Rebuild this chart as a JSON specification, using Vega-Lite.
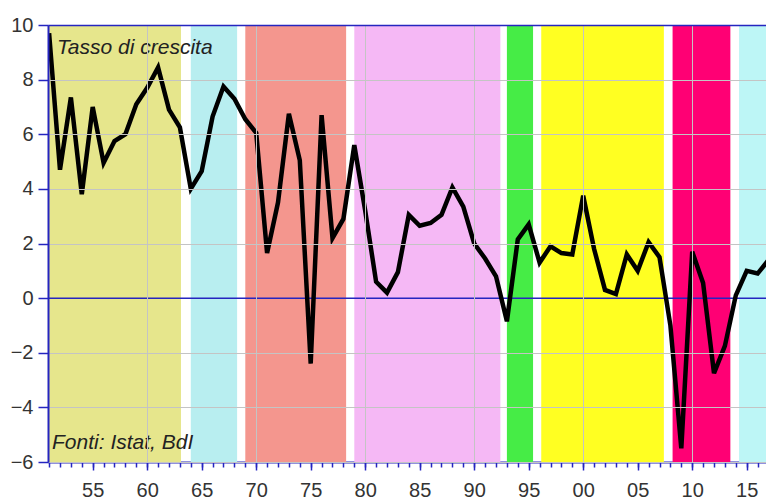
{
  "$schema": "https://vega.github.io/schema/vega-lite/v6.json",
  "width": 718,
  "height": 437,
  "autosize": {"type": "none"},
  "padding": {"left": 48, "top": 25, "right": 0, "bottom": 39},
  "background": "white",
  "config": {
    "view": {"stroke": null},
    "axis": {"labelFont": "Liberation Sans", "labelFontSize": 20, "labelColor": "#333333"}
  },
  "datasets": {
    "bands": [
      {"period": "p1", "start": 1950, "end": 1963.1},
      {"period": "p2", "start": 1964.0, "end": 1968.25},
      {"period": "p3", "start": 1969.0, "end": 1978.25},
      {"period": "p4", "start": 1979.0, "end": 1992.4},
      {"period": "p5", "start": 1993.0, "end": 1995.4},
      {"period": "p6", "start": 1996.15, "end": 2007.4},
      {"period": "p7", "start": 2008.2, "end": 2013.5},
      {"period": "p8", "start": 2014.3, "end": 2020}
    ],
    "gdp": [
      {"year": 1951, "growth": 9.7},
      {"year": 1952, "growth": 4.7},
      {"year": 1953, "growth": 7.35},
      {"year": 1954, "growth": 3.8},
      {"year": 1955, "growth": 7.0},
      {"year": 1956, "growth": 4.95},
      {"year": 1957, "growth": 5.75},
      {"year": 1958, "growth": 6.0},
      {"year": 1959, "growth": 7.1},
      {"year": 1960, "growth": 7.7},
      {"year": 1961, "growth": 8.45},
      {"year": 1962, "growth": 6.9},
      {"year": 1963, "growth": 6.25},
      {"year": 1964, "growth": 4.0},
      {"year": 1965, "growth": 4.65},
      {"year": 1966, "growth": 6.65},
      {"year": 1967, "growth": 7.75},
      {"year": 1968, "growth": 7.3},
      {"year": 1969, "growth": 6.55},
      {"year": 1970, "growth": 6.05},
      {"year": 1971, "growth": 1.65},
      {"year": 1972, "growth": 3.5},
      {"year": 1973, "growth": 6.75},
      {"year": 1974, "growth": 5.05},
      {"year": 1975, "growth": -2.4},
      {"year": 1976, "growth": 6.7},
      {"year": 1977, "growth": 2.2},
      {"year": 1978, "growth": 2.9},
      {"year": 1979, "growth": 5.6},
      {"year": 1980, "growth": 3.2},
      {"year": 1981, "growth": 0.6},
      {"year": 1982, "growth": 0.2},
      {"year": 1983, "growth": 0.95},
      {"year": 1984, "growth": 3.05},
      {"year": 1985, "growth": 2.65},
      {"year": 1986, "growth": 2.75},
      {"year": 1987, "growth": 3.05},
      {"year": 1988, "growth": 4.05},
      {"year": 1989, "growth": 3.35},
      {"year": 1990, "growth": 2.0},
      {"year": 1991, "growth": 1.45},
      {"year": 1992, "growth": 0.8},
      {"year": 1993, "growth": -0.85},
      {"year": 1994, "growth": 2.15},
      {"year": 1995, "growth": 2.7},
      {"year": 1996, "growth": 1.3},
      {"year": 1997, "growth": 1.9},
      {"year": 1998, "growth": 1.65},
      {"year": 1999, "growth": 1.6},
      {"year": 2000, "growth": 3.75},
      {"year": 2001, "growth": 1.8},
      {"year": 2002, "growth": 0.3},
      {"year": 2003, "growth": 0.15},
      {"year": 2004, "growth": 1.6},
      {"year": 2005, "growth": 1.0},
      {"year": 2006, "growth": 2.05},
      {"year": 2007, "growth": 1.5},
      {"year": 2008, "growth": -1.0},
      {"year": 2009, "growth": -5.5},
      {"year": 2010, "growth": 1.7},
      {"year": 2011, "growth": 0.55},
      {"year": 2012, "growth": -2.75},
      {"year": 2013, "growth": -1.75},
      {"year": 2014, "growth": 0.1},
      {"year": 2015, "growth": 1.0},
      {"year": 2016, "growth": 0.9},
      {"year": 2017, "growth": 1.4}
    ]
  },
  "layer": [
    {
      "data": {"name": "bands"},
      "mark": {"type": "rect", "clip": true},
      "encoding": {
        "x": {
          "field": "start", "type": "quantitative",
          "scale": {"domain": [1950.9, 2016.77], "nice": false, "zero": false},
          "axis": {
            "orient": "bottom",
            "values": [1951,1952,1953,1954,1955,1956,1957,1958,1959,1960,1961,1962,1963,1964,1965,1966,1967,1968,1969,1970,1971,1972,1973,1974,1975,1976,1977,1978,1979,1980,1981,1982,1983,1984,1985,1986,1987,1988,1989,1990,1991,1992,1993,1994,1995,1996,1997,1998,1999,2000,2001,2002,2003,2004,2005,2006,2007,2008,2009,2010,2011,2012,2013,2014,2015,2016],
            "labels": false, "domain": false, "grid": false,
            "ticks": true, "tickSize": 5, "tickColor": "#2525c0", "tickWidth": 1.5,
            "title": null
          }
        },
        "x2": {"field": "end"},
        "color": {
          "field": "period", "type": "nominal",
          "scale": {
            "domain": ["p1", "p2", "p3", "p4", "p5", "p6", "p7", "p8"],
            "range": ["#E6E68C", "#B8EEF0", "#F4968E", "#F5B8F5", "#46EC46", "#FFFF22", "#FF0074", "#BDF6F6"]
          },
          "legend": null
        }
      }
    },
    {
      "data": {"values": [{}]},
      "mark": {"type": "rule", "color": "#2525c0", "strokeWidth": 1.5},
      "encoding": {"y": {"datum": 0, "type": "quantitative"}}
    },
    {
      "data": {"name": "gdp"},
      "mark": {"type": "line", "color": "black", "strokeWidth": 4.5, "clip": true},
      "encoding": {
        "x": {
          "field": "year", "type": "quantitative",
          "scale": {"domain": [1950.9, 2016.77], "nice": false, "zero": false},
          "axis": {
            "orient": "bottom",
            "values": [1955, 1960, 1965, 1970, 1975, 1980, 1985, 1990, 1995, 2000, 2005, 2010, 2015],
            "labelExpr": "slice(toString(datum.value), 2)",
            "grid": false, "domain": true, "domainColor": "#2525c0", "domainWidth": 2,
            "tickColor": "#2525c0", "tickSize": 8, "tickWidth": 1.5,
            "labelPadding": 10, "title": null
          }
        },
        "y": {
          "field": "growth", "type": "quantitative",
          "scale": {"domain": [-6, 10], "nice": false, "zero": false},
          "axis": {
            "values": [-6, -4, -2, 0, 2, 4, 6, 8, 10],
            "format": "d",
            "grid": true, "gridColor": "#c4c4c4", "gridWidth": 1,
            "gridOpacity": {"condition": {"test": "datum.value === 0", "value": 0}, "value": 1},
            "domain": true, "domainColor": "#2525c0", "domainWidth": 2,
            "tickColor": "#2525c0", "tickSize": 10, "tickWidth": 1.5,
            "labelPadding": 5, "title": null, "zindex": 1
          }
        }
      }
    },
    {
      "data": {"values": [{"label": "Tasso di crescita"}]},
      "mark": {"type": "text", "align": "left", "baseline": "alphabetic", "font": "Liberation Sans", "fontSize": 21, "fontStyle": "italic", "color": "#222222"},
      "encoding": {
        "x": {
          "datum": 1951.72, "type": "quantitative",
          "axis": {
            "orient": "top",
            "values": [1960, 1970, 1980, 1990, 2000, 2010],
            "grid": true, "gridColor": "#c4c4c4", "gridWidth": 1,
            "labels": false, "ticks": false,
            "domain": true, "domainColor": "#2525c0", "domainWidth": 1.5,
            "title": null, "zindex": 1
          }
        },
        "y": {"datum": 8.94, "type": "quantitative"},
        "text": {"field": "label"}
      }
    },
    {
      "data": {"values": [{"label": "Fonti: Istat, BdI"}]},
      "mark": {"type": "text", "align": "left", "baseline": "alphabetic", "font": "Liberation Sans", "fontSize": 21, "fontStyle": "italic", "color": "#222222"},
      "encoding": {
        "x": {"datum": 1951.27, "type": "quantitative", "axis": null},
        "y": {"datum": -5.51, "type": "quantitative"},
        "text": {"field": "label"}
      }
    }
  ],
  "resolve": {"axis": {"x": "independent"}}
}
